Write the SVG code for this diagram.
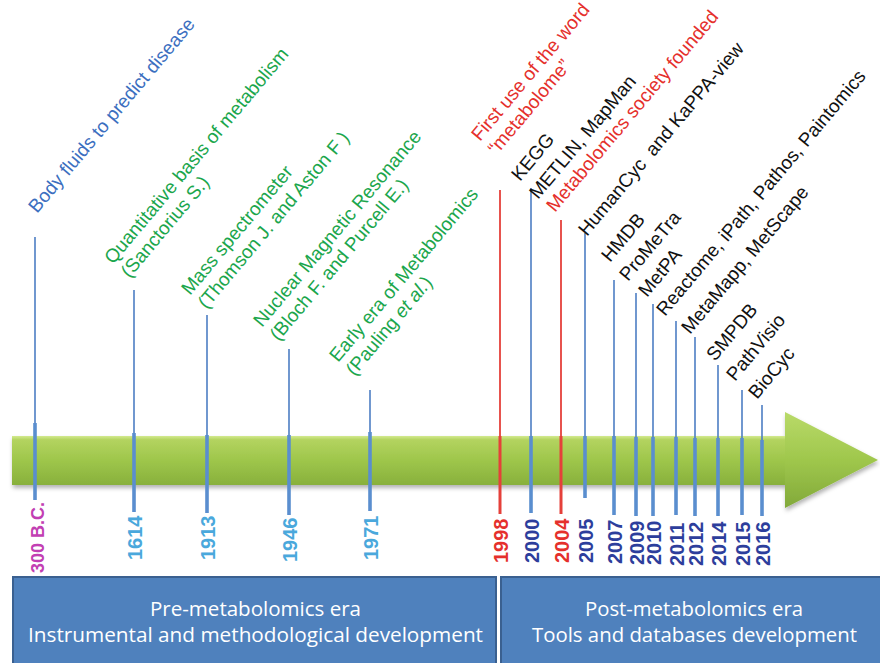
<svg xmlns="http://www.w3.org/2000/svg" width="880" height="663" viewBox="0 0 880 663">
<defs>
<linearGradient id="barG" x1="0" y1="0" x2="0" y2="1">
<stop offset="0" stop-color="#d3ea8f"/>
<stop offset="0.08" stop-color="#b3d35f"/>
<stop offset="0.5" stop-color="#9ec64b"/>
<stop offset="1" stop-color="#88b03c"/>
</linearGradient>
<linearGradient id="headG" x1="0" y1="0" x2="0" y2="1">
<stop offset="0" stop-color="#b9da69"/>
<stop offset="0.5" stop-color="#9fc74c"/>
<stop offset="1" stop-color="#82a93a"/>
</linearGradient>
<filter id="sh" x="-5%" y="-20%" width="110%" height="150%">
<feDropShadow dx="1" dy="3" stdDeviation="2" flood-color="#000" flood-opacity="0.3"/>
</filter>
<style>
.lbl{font-family:"Liberation Sans",Arial,sans-serif;font-size:19px}
.blue{fill:#3c6fbf}
.green{fill:#1ba64c}
.red{fill:#e5302c}
.black{fill:#111}
.yr{font-family:"Liberation Sans",Arial,sans-serif;font-size:20px;font-weight:bold}
.ylb{fill:#4aa8dc}
.ydb{fill:#2d3e9c}
.yrd{fill:#e5302c}
.ymg{fill:#c23fb3}
.thin{stroke:#4d7ec3;stroke-width:1.6;fill:none}
.thick{stroke:#5a8ecf;stroke-width:3.6;fill:none}
.thinr{stroke:#e5403a;stroke-width:1.8;fill:none}
.thickr{stroke:#e5403a;stroke-width:3;fill:none}
.box{fill:#4f81bd;stroke:#3a6090;stroke-width:2}
.bt{font-family:"Open Sans","Liberation Sans",sans-serif;font-size:20px;fill:#fff}
</style>
</defs>

<g id="timeline-arrow" filter="url(#sh)">
<rect x="12" y="436" width="774" height="49" fill="url(#barG)"/>
<polygon points="785,412 878,460 785,508" fill="url(#headG)"/>
</g>

<g id="connectors">
<line class="thin" x1="35" y1="237" x2="35" y2="500"/>
<line class="thick" x1="35" y1="423" x2="35" y2="500"/>
<line class="thin" x1="134" y1="290" x2="134" y2="512"/>
<line class="thick" x1="134" y1="433" x2="134" y2="512"/>
<line class="thin" x1="207" y1="315" x2="207" y2="513"/>
<line class="thick" x1="207" y1="435" x2="207" y2="513"/>
<line class="thin" x1="289" y1="349" x2="289" y2="515"/>
<line class="thick" x1="289" y1="435" x2="289" y2="515"/>
<line class="thin" x1="370" y1="390" x2="370" y2="511"/>
<line class="thick" x1="370" y1="432" x2="370" y2="511"/>
<line class="thinr" x1="500" y1="190" x2="500" y2="514"/>
<line class="thickr" x1="500" y1="436" x2="500" y2="514"/>
<line class="thin" x1="531" y1="188" x2="531" y2="513"/>
<line class="thick" x1="531" y1="436" x2="531" y2="513"/>
<line class="thinr" x1="561" y1="220" x2="561" y2="514"/>
<line class="thickr" x1="561" y1="436" x2="561" y2="514"/>
<line class="thin" x1="585" y1="233" x2="585" y2="498"/>
<line class="thick" x1="585" y1="436" x2="585" y2="498"/>
<line class="thin" x1="614" y1="280" x2="614" y2="515"/>
<line class="thick" x1="614" y1="436" x2="614" y2="515"/>
<line class="thin" x1="636" y1="293" x2="636" y2="516"/>
<line class="thick" x1="636" y1="437" x2="636" y2="516"/>
<line class="thin" x1="653" y1="304" x2="653" y2="516"/>
<line class="thick" x1="653" y1="437" x2="653" y2="516"/>
<line class="thin" x1="676" y1="321" x2="676" y2="515"/>
<line class="thick" x1="676" y1="437" x2="676" y2="515"/>
<line class="thin" x1="695" y1="337" x2="695" y2="516"/>
<line class="thick" x1="695" y1="438" x2="695" y2="516"/>
<line class="thin" x1="718" y1="365" x2="718" y2="516"/>
<line class="thick" x1="718" y1="438" x2="718" y2="516"/>
<line class="thin" x1="742" y1="390" x2="742" y2="515"/>
<line class="thick" x1="742" y1="438" x2="742" y2="515"/>
<line class="thin" x1="762" y1="405" x2="762" y2="516"/>
<line class="thick" x1="762" y1="440" x2="762" y2="516"/>
</g>

<g id="ev-300bc">
<text class="lbl blue" transform="translate(37,214) rotate(-50)">Body fluids to predict disease</text>
<text class="yr ymg" style="font-size:18px" transform="translate(43.5,573) rotate(-90)">300 B.C.</text>
</g>
<g id="ev-1614">
<text class="lbl green" transform="translate(113,265) rotate(-50)">Quantitative basis of metabolism<tspan x="0" dy="21.5">(Sanctorius S.)</tspan></text>
<text class="yr ylb" transform="translate(142,560) rotate(-90)">1614</text>
</g>
<g id="ev-1913">
<text class="lbl green" transform="translate(190,296) rotate(-50)">Mass spectrometer<tspan x="0" dy="21.5">(Thomson J. and Aston F )</tspan></text>
<text class="yr ylb" transform="translate(215,560) rotate(-90)">1913</text>
</g>
<g id="ev-1946">
<text class="lbl green" transform="translate(262,328) rotate(-50)">Nuclear Magnetic Resonance<tspan x="0" dy="21.5">(Bloch F. and Purcell E.)</tspan></text>
<text class="yr ylb" transform="translate(297,562) rotate(-90)">1946</text>
</g>
<g id="ev-1971">
<text class="lbl green" transform="translate(338,363) rotate(-50)">Early era of Metabolomics<tspan x="0" dy="21.5">(Pauling </tspan><tspan font-style="italic">et al.</tspan><tspan>)</tspan></text>
<text class="yr ylb" transform="translate(378,560) rotate(-90)">1971</text>
</g>
<g id="ev-1998">
<text class="lbl red" transform="translate(480,142) rotate(-50)">First use of the word<tspan x="0" dy="21.5">“metabolome”</tspan></text>
<text class="yr yrd" transform="translate(508,563) rotate(-90)">1998</text>
</g>
<g id="ev-2000">
<text class="lbl black" transform="translate(520,182) rotate(-50)">KEGG</text>
<text class="lbl black" transform="translate(538,200) rotate(-50)">METLIN, MapMan</text>
<text class="yr ydb" transform="translate(539,563) rotate(-90)">2000</text>
</g>
<g id="ev-2004">
<text class="lbl red" transform="translate(555,213) rotate(-50)">Metabolomics society founded</text>
<text class="yr yrd" transform="translate(569,563) rotate(-90)">2004</text>
</g>
<g id="ev-2005">
<text class="lbl black" transform="translate(587,237) rotate(-50)">HumanCyc <tspan dx="5">and KaPPA-view</tspan></text>
<text class="yr ydb" transform="translate(593,563) rotate(-90)">2005</text>
</g>
<g id="ev-2007">
<text class="lbl black" transform="translate(610,263) rotate(-50)">HMDB</text>
<text class="yr ydb" transform="translate(622,564) rotate(-90)">2007</text>
</g>
<g id="ev-2009">
<text class="lbl black" transform="translate(628,282) rotate(-50)">ProMeTra</text>
<text class="yr ydb" transform="translate(644,565) rotate(-90)">2009</text>
</g>
<g id="ev-2010">
<text class="lbl black" transform="translate(647,298) rotate(-50)">MetPA</text>
<text class="yr ydb" transform="translate(661,565) rotate(-90)">2010</text>
</g>
<g id="ev-2011">
<text class="lbl black" transform="translate(665,317) rotate(-50)">Reactome, iPath, Pathos, Paintomics</text>
<text class="yr ydb" transform="translate(684,566) rotate(-90)">2011</text>
</g>
<g id="ev-2012">
<text class="lbl black" transform="translate(690,335) rotate(-50)">MetaMapp, MetScape</text>
<text class="yr ydb" transform="translate(703,566) rotate(-90)">2012</text>
</g>
<g id="ev-2014">
<text class="lbl black" transform="translate(715,362) rotate(-50)">SMPDB</text>
<text class="yr ydb" transform="translate(726,566) rotate(-90)">2014</text>
</g>
<g id="ev-2015">
<text class="lbl black" transform="translate(735,382) rotate(-50)">PathVisio</text>
<text class="yr ydb" transform="translate(750,566) rotate(-90)">2015</text>
</g>
<g id="ev-2016">
<text class="lbl black" transform="translate(757,400) rotate(-50)">BioCyc</text>
<text class="yr ydb" transform="translate(770,566) rotate(-90)">2016</text>
</g>

<g id="era-pre">
<rect class="box" x="13" y="577" width="483" height="87"/>
<text class="bt" x="150" y="616" textLength="211" lengthAdjust="spacingAndGlyphs">Pre-metabolomics era</text>
<text class="bt" x="28" y="642" textLength="455" lengthAdjust="spacingAndGlyphs">Instrumental and methodological development</text>
</g>
<g id="era-post">
<rect class="box" x="501" y="577" width="380" height="87"/>
<text class="bt" x="585" y="616" textLength="218" lengthAdjust="spacingAndGlyphs">Post-metabolomics era</text>
<text class="bt" x="532" y="642" textLength="325" lengthAdjust="spacingAndGlyphs">Tools and databases development</text>
</g>
</svg>
